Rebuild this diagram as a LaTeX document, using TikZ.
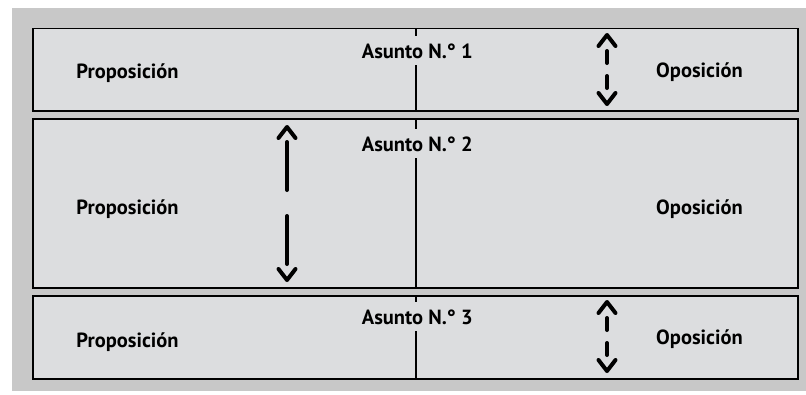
\documentclass[tikz,border=0pt]{standalone}
\usepackage{fontspec}
\setmainfont{PT Sans}
\usetikzlibrary{positioning}
\definecolor{backdrop}{RGB}{200,200,200}
\definecolor{panelgray}{RGB}{220,221,223}
\tikzset{
  panel/.style   = {draw, line width=1.8pt, fill=panelgray, rectangle,
                    minimum width=765pt, inner sep=0pt, outer sep=0pt},
  divider/.style = {line width=1.6pt},
  topic/.style   = {fill=panelgray, inner xsep=2pt, inner ysep=7pt,
                    anchor=base, font=\fontsize{20.5}{24}\selectfont\bfseries},
  side/.style    = {inner sep=0pt, font=\fontsize{20.5}{24}\selectfont\bfseries},
  updown/.style  = {line width=4pt, line cap=round},
  barbline/.style = {line width=4pt, line cap=round, line join=round},
  barb/.pic      = {\draw[barbline] (-8.5,11) -- (0,0) -- (8.5,11);}
}

\begin{document}
\begin{tikzpicture}[x=1pt,y=-1pt]
\useasboundingbox (0,0) rectangle (806,394);
\fill[backdrop] (12,8) rectangle (806,391);

% the three panels
\node[panel, minimum height=82.5pt] (b1) at (415.75,69.75) {};
\node[panel, minimum height=169.3pt, below=8pt of b1] (b2) {};
\node[panel, minimum height=82.5pt, below=8pt of b2] (b3) {};

\foreach \i in {1,2,3}
  \draw[divider] (b\i.north) -- (b\i.south);

% titles over the divider
\node[topic] (t1) at ([shift={(1.5,29.5)}]b1.north) {Asunto N.° 1};
\node[topic] (t2) at ([shift={(1.5,32)}]b2.north) {Asunto N.° 2};
\node[topic] (t3) at ([shift={(1.5,27.7)}]b3.north) {Asunto N.° 3};

% the two sides
\node[side, anchor=base west] (p1) at ([shift={(43,8.3)}]b1.west) {Proposición};
\node[side, anchor=base west] (p2) at ([shift={(43,10.4)}]b2.west) {Proposición};
\node[side, anchor=base west] (p3) at ([shift={(43,9.5)}]b3.west) {Proposición};

\node[side, anchor=base east] (o1) at ([shift={(-55.3,7.3)}]b1.east) {Oposición};
\node[side, anchor=base east] (o2) at ([shift={(-55.3,10.4)}]b2.east) {Oposición};
\node[side, anchor=base east] (o3) at ([shift={(-55.3,6.5)}]b3.east) {Oposición};

% double arrows
\coordinate (u1) at (607,33);  \coordinate (d1) at (607,106);
\coordinate (u2) at (287,125); \coordinate (d2) at (287,282);
\coordinate (u3) at (607,300); \coordinate (d3) at (607,373);

\draw[updown, dash pattern=on 12pt off 13pt on 12pt off 48pt, dash phase=67pt] (u1) -- (d1);
\draw[updown, dash pattern=on 48pt off 26pt, dash phase=57pt] (u2) -- (d2);
\draw[updown, dash pattern=on 12pt off 13pt on 12pt off 48pt, dash phase=67pt] (u3) -- (d3);

\foreach \i in {1,2,3} {
  \pic at ([shift={(0,2)}]u\i) {barb};
  \pic[rotate=180] at ([shift={(0,-2)}]d\i) {barb};
}
\end{tikzpicture}
\end{document}
